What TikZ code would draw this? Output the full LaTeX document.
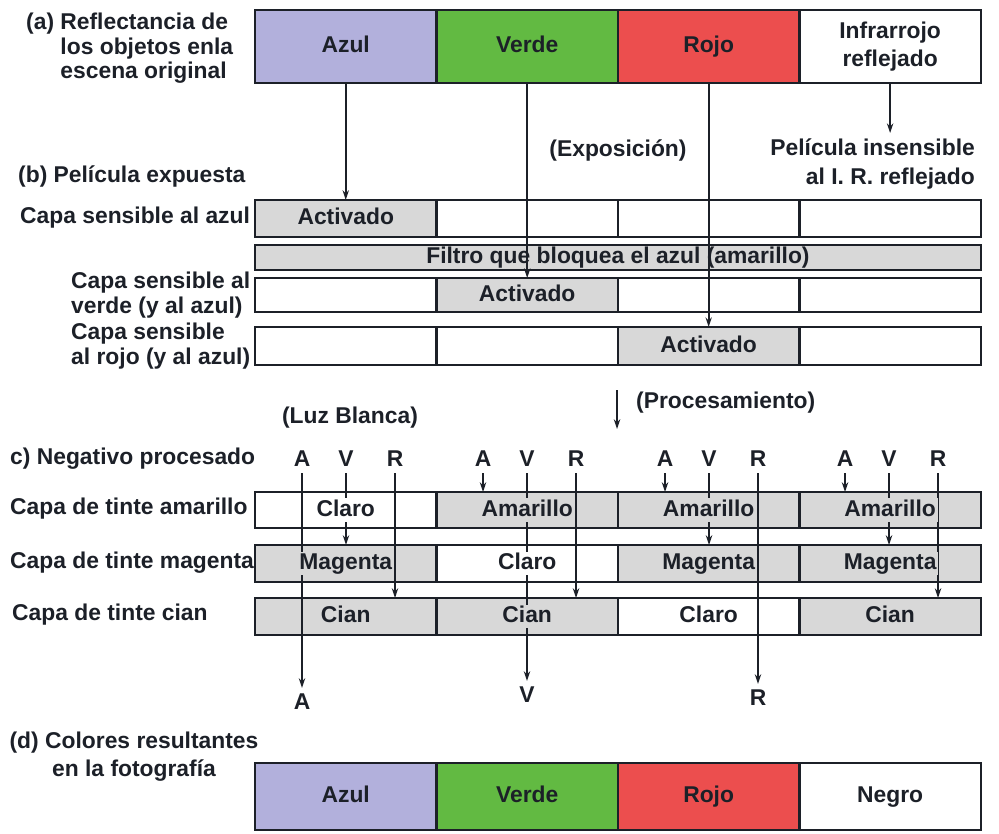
\documentclass[tikz,border=0pt]{standalone}
\usepackage{fontspec}
\setmainfont{Liberation Sans}
\usetikzlibrary{positioning,arrows.meta}
\definecolor{azul}{RGB}{178,176,220}
\definecolor{verde}{RGB}{98,186,66}
\definecolor{rojo}{RGB}{236,78,78}
\definecolor{tinte}{RGB}{216,216,216}
\definecolor{trazo}{RGB}{28,32,40}
\newcommand{\lblfont}{\bfseries\fontsize{13}{14}\selectfont}

\begin{document}
\begin{tikzpicture}[x=0.02cm, y=-0.02cm, font=\lblfont, text=trazo,
    cell/.style={rectangle, draw=trazo, line width=\boxlw, minimum width=\cellw, inner sep=0pt, outer sep=0pt},
    txt/.style={text height=0.92em, text depth=0.2em},
    ray/.style={draw=trazo, line width=0.04cm, -{Stealth[length=5.5pt,width=3.6pt]}},
    tag/.style={txt, inner sep=1pt}]
        \def\cellw{3.63cm}
        \def\boxlw{0.05cm}
        \useasboundingbox (0,0) rectangle (999,833);

        % (a) escena original
        \node[align=left, anchor=north west] (lbla) at (20,7) {(a) Reflectancia de\\\phantom{(a) }los objetos enla\\\phantom{(a) }escena original};
        \node[cell, txt, minimum height=1.46cm, fill=azul, anchor=north west] (az) at (255,10) {Azul};
        \node[cell, txt, minimum height=1.46cm, fill=verde, right=0pt of az] (ve) {Verde};
        \node[cell, txt, minimum height=1.46cm, fill=rojo, right=0pt of ve] (ro) {Rojo};
        \node[cell, minimum height=1.46cm, fill=white, right=0pt of ro, align=center] (ir) {Infrarrojo\\[2pt]reflejado};

        \node (expo) at (618,150) {(Exposición)};
        \node[align=right, anchor=east] (irnote) at (981,164) {Película insensible\\[2pt]al I. R. reflejado};

        % (b) pelicula expuesta
        \node[anchor=west] (lblb) at (12,176) {(b) Película expuesta};
        \node[anchor=west] (lbls) at (14,218) {Capa sensible al azul};
        \node[anchor=west, align=left] (lblv) at (65,295) {Capa sensible al\\verde (y al azul)};
        \node[anchor=west, align=left] (lblr) at (65,346) {Capa sensible\\al rojo (y al azul)};

        \node[cell, txt, minimum height=0.74cm, fill=tinte, anchor=north west] (s1) at (255,200) {Activado};
        \node[cell, minimum height=0.74cm, right=0pt of s1] (s2) {};
        \node[cell, minimum height=0.74cm, right=0pt of s2] (s3) {};
        \node[cell, minimum height=0.74cm, right=0pt of s3] (s4) {};

        \node[cell, minimum width=14.52cm, minimum height=0.5cm, fill=tinte, anchor=north west] (filt) at (255,245) {};

        \node[cell, minimum height=0.68cm, anchor=north west] (v1) at (255,278) {};
        \node[cell, txt, minimum height=0.68cm, fill=tinte, right=0pt of v1] (v2) {Activado};
        \node[cell, minimum height=0.68cm, right=0pt of v2] (v3) {};
        \node[cell, minimum height=0.68cm, right=0pt of v3] (v4) {};

        \node[cell, minimum height=0.76cm, anchor=north west] (r1) at (255,327) {};
        \node[cell, minimum height=0.76cm, right=0pt of r1] (r2) {};
        \node[cell, txt, minimum height=0.76cm, fill=tinte, right=0pt of r2] (r3) {Activado};
        \node[cell, minimum height=0.76cm, right=0pt of r3] (r4) {};

        \draw[ray] (az) -- (s1);
        \draw[ray] (ve) -- (v2);
        \draw[ray] (ro) -- (r3);
        \draw[ray] (ir) -- (ir |- irnote.north);
        \node[txt] (filttxt) at (filt) {Filtro que bloquea el azul (amarillo)};

        % procesamiento
        \coordinate (procA) at (617,390);
        \coordinate (procB) at (617,429);
        \draw[ray] (procA) -- (procB);
        \node[anchor=west] (proc) at (630,403) {(Procesamiento)};
        \node (luz) at (350,418) {(Luz Blanca)};

        % c) negativo procesado
        \node[anchor=west] (lblc) at (4,459) {c) Negativo procesado};
        \node[anchor=west] (lblam) at (4,509) {Capa de tinte amarillo};
        \node[anchor=west] (lblmg) at (4,563) {Capa de tinte magenta};
        \node[anchor=west] (lblci) at (6,615) {Capa de tinte cian};

        \node (la1) at (302,459) {A};
        \node (lv1) at (346,459) {V};
        \node (lr1) at (395,459) {R};
        \node (la2) at (483,459) {A};
        \node (lv2) at (527,459) {V};
        \node (lr2) at (576,459) {R};
        \node (la3) at (665,459) {A};
        \node (lv3) at (709,459) {V};
        \node (lr3) at (758,459) {R};
        \node (la4) at (845,459) {A};
        \node (lv4) at (889,459) {V};
        \node (lr4) at (938,459) {R};

        \node[cell, minimum height=0.72cm, anchor=north west] (am1) at (255,492) {};
        \node[cell, minimum height=0.72cm, fill=tinte, right=0pt of am1] (am2) {};
        \node[cell, minimum height=0.72cm, fill=tinte, right=0pt of am2] (am3) {};
        \node[cell, minimum height=0.72cm, fill=tinte, right=0pt of am3] (am4) {};

        \node[cell, minimum height=0.74cm, fill=tinte, anchor=north west] (mg1) at (255,545) {};
        \node[cell, minimum height=0.74cm, right=0pt of mg1] (mg2) {};
        \node[cell, minimum height=0.74cm, fill=tinte, right=0pt of mg2] (mg3) {};
        \node[cell, minimum height=0.74cm, fill=tinte, right=0pt of mg3] (mg4) {};

        \node[cell, minimum height=0.74cm, fill=tinte, anchor=north west] (ci1) at (255,598) {};
        \node[cell, minimum height=0.74cm, fill=tinte, right=0pt of ci1] (ci2) {};
        \node[cell, minimum height=0.74cm, right=0pt of ci2] (ci3) {};
        \node[cell, minimum height=0.74cm, fill=tinte, right=0pt of ci3] (ci4) {};

        \node (outA) at (la1 |- 0,702) {A};
        \node (outV) at (lv2 |- 0,695) {V};
        \node (outR) at (lr3 |- 0,698) {R};

        \draw[ray] (la1) -- (outA);
        \draw[ray] (lv1) -- (lv1 |- mg1.north);
        \draw[ray] (lr1) -- (lr1 |- ci1.north);
        \draw[ray] (la2) -- (la2 |- am2.north);
        \draw[ray] (lv2) -- (outV);
        \draw[ray] (lr2) -- (lr2 |- ci2.north);
        \draw[ray] (la3) -- (la3 |- am3.north);
        \draw[ray] (lv3) -- (lv3 |- mg3.north);
        \draw[ray] (lr3) -- (outR);
        \draw[ray] (la4) -- (la4 |- am4.north);
        \draw[ray] (lv4) -- (lv4 |- mg4.north);
        \draw[ray] (lr4) -- (lr4 |- ci4.north);

        \node[tag, fill=white] (tam1) at (am1) {Claro};
        \node[tag, fill=tinte] (tam2) at (am2) {Amarillo};
        \node[tag, fill=tinte] (tam3) at (am3) {Amarillo};
        \node[tag, fill=tinte] (tam4) at (am4) {Amarillo};
        \node[tag, fill=tinte] (tmg1) at (mg1) {Magenta};
        \node[tag, fill=white] (tmg2) at (mg2) {Claro};
        \node[tag, fill=tinte] (tmg3) at (mg3) {Magenta};
        \node[tag, fill=tinte] (tmg4) at (mg4) {Magenta};
        \node[tag, fill=tinte] (tci1) at (ci1) {Cian};
        \node[tag, fill=tinte] (tci2) at (ci2) {Cian};
        \node[tag, fill=white] (tci3) at (ci3) {Claro};
        \node[tag, fill=tinte] (tci4) at (ci4) {Cian};

        % (d) fotografia
        \node[align=center] (lbld) at (134,757) {(d) Colores resultantes\\[2pt]en la fotografía};
        \node[cell, txt, minimum height=1.34cm, fill=azul, anchor=north west] (fa) at (255,763) {Azul};
        \node[cell, txt, minimum height=1.34cm, fill=verde, right=0pt of fa] (fv) {Verde};
        \node[cell, txt, minimum height=1.34cm, fill=rojo, right=0pt of fv] (fr) {Rojo};
        \node[cell, txt, minimum height=1.34cm, fill=white, right=0pt of fr] (fn) {Negro};
    \end{tikzpicture}
\end{document}
